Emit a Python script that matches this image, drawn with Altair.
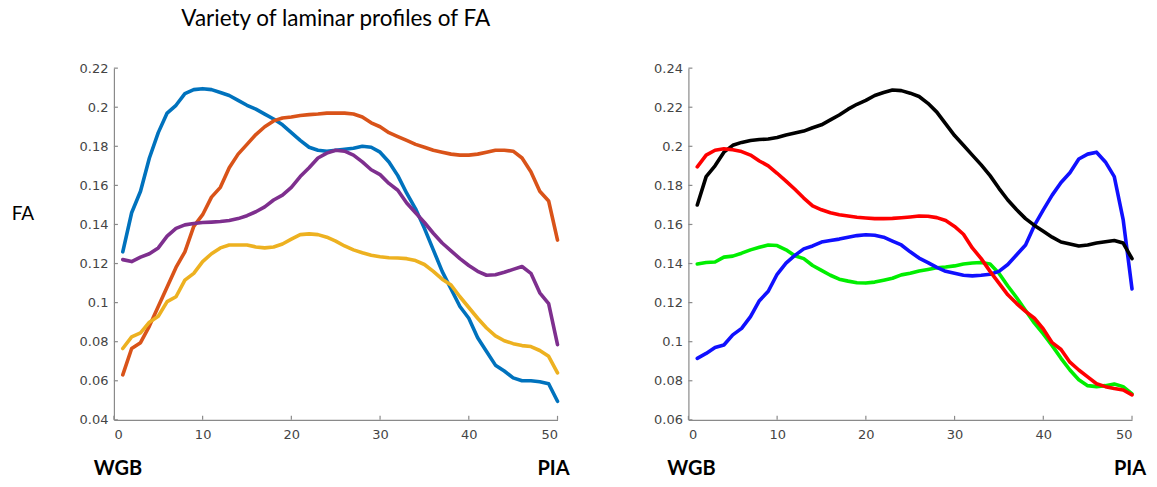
import altair as alt
import pandas as pd

# Cortical depth bins, white/grey boundary (1) to pia (50)
layers = list(range(1, 51))

# Left panel profiles
left_blue = [0.126, 0.146, 0.157, 0.174, 0.187, 0.197, 0.201, 0.207, 0.209, 0.2095,
             0.209, 0.2075, 0.206, 0.2035, 0.201, 0.199, 0.1965, 0.194, 0.191, 0.187,
             0.183, 0.1795, 0.178, 0.1775, 0.178, 0.1785, 0.179, 0.180, 0.1795, 0.177,
             0.172, 0.165, 0.156, 0.148, 0.138, 0.127, 0.116, 0.107, 0.098, 0.092,
             0.082, 0.075, 0.068, 0.065, 0.0615, 0.060, 0.060, 0.0595, 0.0585, 0.0495]
left_orange = [0.063, 0.0765, 0.0795, 0.088, 0.098, 0.108, 0.118, 0.126, 0.139, 0.145,
               0.154, 0.159, 0.169, 0.176, 0.181, 0.186, 0.190, 0.193, 0.1945, 0.195,
               0.1958, 0.1962, 0.1965, 0.197, 0.197, 0.197, 0.1965, 0.195, 0.192, 0.190,
               0.187, 0.185, 0.183, 0.181, 0.1795, 0.178, 0.177, 0.176, 0.1755, 0.1755,
               0.176, 0.177, 0.178, 0.178, 0.1775, 0.174, 0.167, 0.157, 0.152, 0.132]
left_yellow = [0.0765, 0.0825, 0.0845, 0.090, 0.093, 0.1005, 0.103, 0.1115, 0.115, 0.121,
               0.125, 0.128, 0.1295, 0.1295, 0.1295, 0.1285, 0.128, 0.1285, 0.130, 0.1325,
               0.1348, 0.1352, 0.1348, 0.1335, 0.1315, 0.129, 0.127, 0.1255, 0.1242, 0.1235,
               0.123, 0.1228, 0.1225, 0.1215, 0.1195, 0.116, 0.112, 0.109, 0.103, 0.0975,
               0.092, 0.087, 0.083, 0.0805, 0.079, 0.078, 0.0775, 0.0755, 0.0725, 0.064]
left_purple = [0.122, 0.121, 0.1233, 0.125, 0.128, 0.134, 0.138, 0.1398, 0.1405, 0.141,
               0.1412, 0.1415, 0.142, 0.143, 0.1445, 0.1465, 0.149, 0.1525, 0.155, 0.159,
               0.1645, 0.169, 0.174, 0.1765, 0.178, 0.1775, 0.1755, 0.172, 0.168, 0.1655,
               0.161, 0.1575, 0.151, 0.146, 0.141, 0.1355, 0.1305, 0.1265, 0.1225, 0.119,
               0.116, 0.114, 0.1143, 0.1155, 0.117, 0.1185, 0.115, 0.105, 0.0995, 0.0785]

# Right panel profiles
right_black = [0.170, 0.1845, 0.190, 0.197, 0.2005, 0.202, 0.203, 0.2035, 0.2037, 0.2045,
               0.2058, 0.2068, 0.2078, 0.2095, 0.211, 0.2135, 0.216, 0.219, 0.2215, 0.2235,
               0.226, 0.2275, 0.2288, 0.2285, 0.2272, 0.2255, 0.222, 0.2175, 0.2115, 0.2055,
               0.2005, 0.1955, 0.1905, 0.185, 0.1785, 0.1725, 0.1675, 0.163, 0.1595, 0.1565,
               0.1535, 0.151, 0.150, 0.149, 0.1495, 0.1505, 0.1512, 0.1518, 0.1505, 0.1425]
right_red = [0.1895, 0.1955, 0.198, 0.1987, 0.1982, 0.1973, 0.1955, 0.1925, 0.190, 0.1862,
             0.1822, 0.178, 0.1735, 0.1695, 0.1675, 0.166, 0.165, 0.1643, 0.1637, 0.1633,
             0.163, 0.163, 0.1631, 0.1634, 0.1638, 0.1643, 0.1642, 0.1635, 0.162, 0.159,
             0.155, 0.148, 0.1425, 0.136, 0.130, 0.124, 0.1195, 0.1155, 0.112, 0.1065,
             0.0995, 0.096, 0.0895, 0.0855, 0.082, 0.0785, 0.077, 0.076, 0.0753, 0.0728]
right_blue = [0.0915, 0.094, 0.097, 0.0983, 0.1035, 0.1068, 0.1128, 0.121, 0.1258, 0.1345,
              0.1402, 0.1442, 0.1475, 0.149, 0.151, 0.1518, 0.1525, 0.1535, 0.1543, 0.1547,
              0.1545, 0.1535, 0.1515, 0.1495, 0.146, 0.1428, 0.1405, 0.138, 0.136, 0.135,
              0.134, 0.1337, 0.134, 0.1345, 0.136, 0.1395, 0.1445, 0.1495, 0.1595, 0.1675,
              0.175, 0.1815, 0.1865, 0.1935, 0.196, 0.197, 0.192, 0.1845, 0.1625, 0.127]
right_green = [0.1398, 0.1405, 0.1408, 0.1433, 0.1438, 0.1453, 0.147, 0.1483, 0.1495, 0.1492,
               0.147, 0.144, 0.1425, 0.139, 0.1365, 0.134, 0.132, 0.131, 0.1302, 0.130,
               0.1305, 0.1315, 0.1325, 0.1342, 0.135, 0.1362, 0.137, 0.1378, 0.1382, 0.1388,
               0.1398, 0.1403, 0.1405, 0.1398, 0.135, 0.1285, 0.1225, 0.116, 0.1095, 0.104,
               0.098, 0.0915, 0.0855, 0.0805, 0.0775, 0.077, 0.0775, 0.0783, 0.077, 0.0733]

x_ticks = [0, 10, 20, 30, 40, 50]
left_y_ticks = [0.04, 0.06, 0.08, 0.10, 0.12, 0.14, 0.16, 0.18, 0.20, 0.22]
right_y_ticks = [0.06, 0.08, 0.10, 0.12, 0.14, 0.16, 0.18, 0.20, 0.22, 0.24]

W, H = 444, 352
AXIS_GREY = "#8a8a8a"


def text_layer(label, x, y, size, weight="normal", align="center", baseline="alphabetic"):
    return alt.Chart(pd.DataFrame({"label": [label]})).mark_text(
        font="Lato", fontSize=size, fontWeight=weight, color="#000000",
        align=align, baseline=baseline,
    ).encode(text="label:N", x=alt.value(x), y=alt.value(y))


def panel(series, y_domain, y_ticks, extras):
    xs = alt.Scale(domain=[0, 50], nice=False, zero=False)
    ys = alt.Scale(domain=y_domain, nice=False, zero=False)
    x_enc = alt.X("layer:Q", scale=xs,
                  axis=alt.Axis(values=x_ticks, format="d", title=None, labelPadding=9))
    y_enc = alt.Y("fa:Q", scale=ys,
                  axis=alt.Axis(values=y_ticks, format=".2~f", title=None, labelPadding=6))

    parts = []
    for color, vals in series:
        df = pd.DataFrame({"layer": layers, "fa": vals})
        parts.append(
            alt.Chart(df).mark_line(strokeWidth=3.6, strokeJoin="round", strokeCap="round",
                                    color=color)
            .encode(x=x_enc, y=y_enc)
        )

    # inward tick marks, MATLAB style
    parts.append(
        alt.Chart(pd.DataFrame({"fa": y_ticks})).mark_rule(color=AXIS_GREY, strokeWidth=1.2)
        .encode(y=y_enc, x=alt.value(0), x2=alt.value(4))
    )
    parts.append(
        alt.Chart(pd.DataFrame({"layer": x_ticks})).mark_rule(color=AXIS_GREY, strokeWidth=1.2)
        .encode(x=x_enc, y=alt.value(H), y2=alt.value(H - 4))
    )
    parts.extend(extras)
    return alt.layer(*parts).properties(width=W, height=H)


left = panel(
    [("#0072BD", left_blue), ("#D95319", left_orange),
     ("#EDB120", left_yellow), ("#7E2F8E", left_purple)],
    [0.04, 0.22], left_y_ticks,
    [
        text_layer("Variety of laminar profiles of FA", 222, -42, 22.5),
        text_layer("FA", -91, 152, 19),
        text_layer("WGB", 4, 407, 20, weight="bold"),
        text_layer("PIA", 440, 407, 20, weight="bold"),
    ],
)

right = panel(
    [("#00EE00", right_green), ("#1010FF", right_blue),
     ("#000000", right_black), ("#FF0000", right_red)],
    [0.06, 0.24], right_y_ticks,
    [
        text_layer("WGB", 3, 407, 20, weight="bold"),
        text_layer("PIA", 442, 407, 20, weight="bold"),
    ],
)

chart = alt.hconcat(left, right, spacing=131, bounds="flush").properties(
    padding={"left": 11, "top": 8, "right": 10, "bottom": 8},
    background="white",
).configure_view(stroke=None).configure_axis(
    grid=False,
    ticks=False,
    domainColor=AXIS_GREY,
    domainWidth=1.2,
    labelFont="DejaVu Sans",
    labelFontSize=13,
    labelColor="#444444",
)

chart.save("out.html", embed_options={"renderer": "svg", "actions": False})
